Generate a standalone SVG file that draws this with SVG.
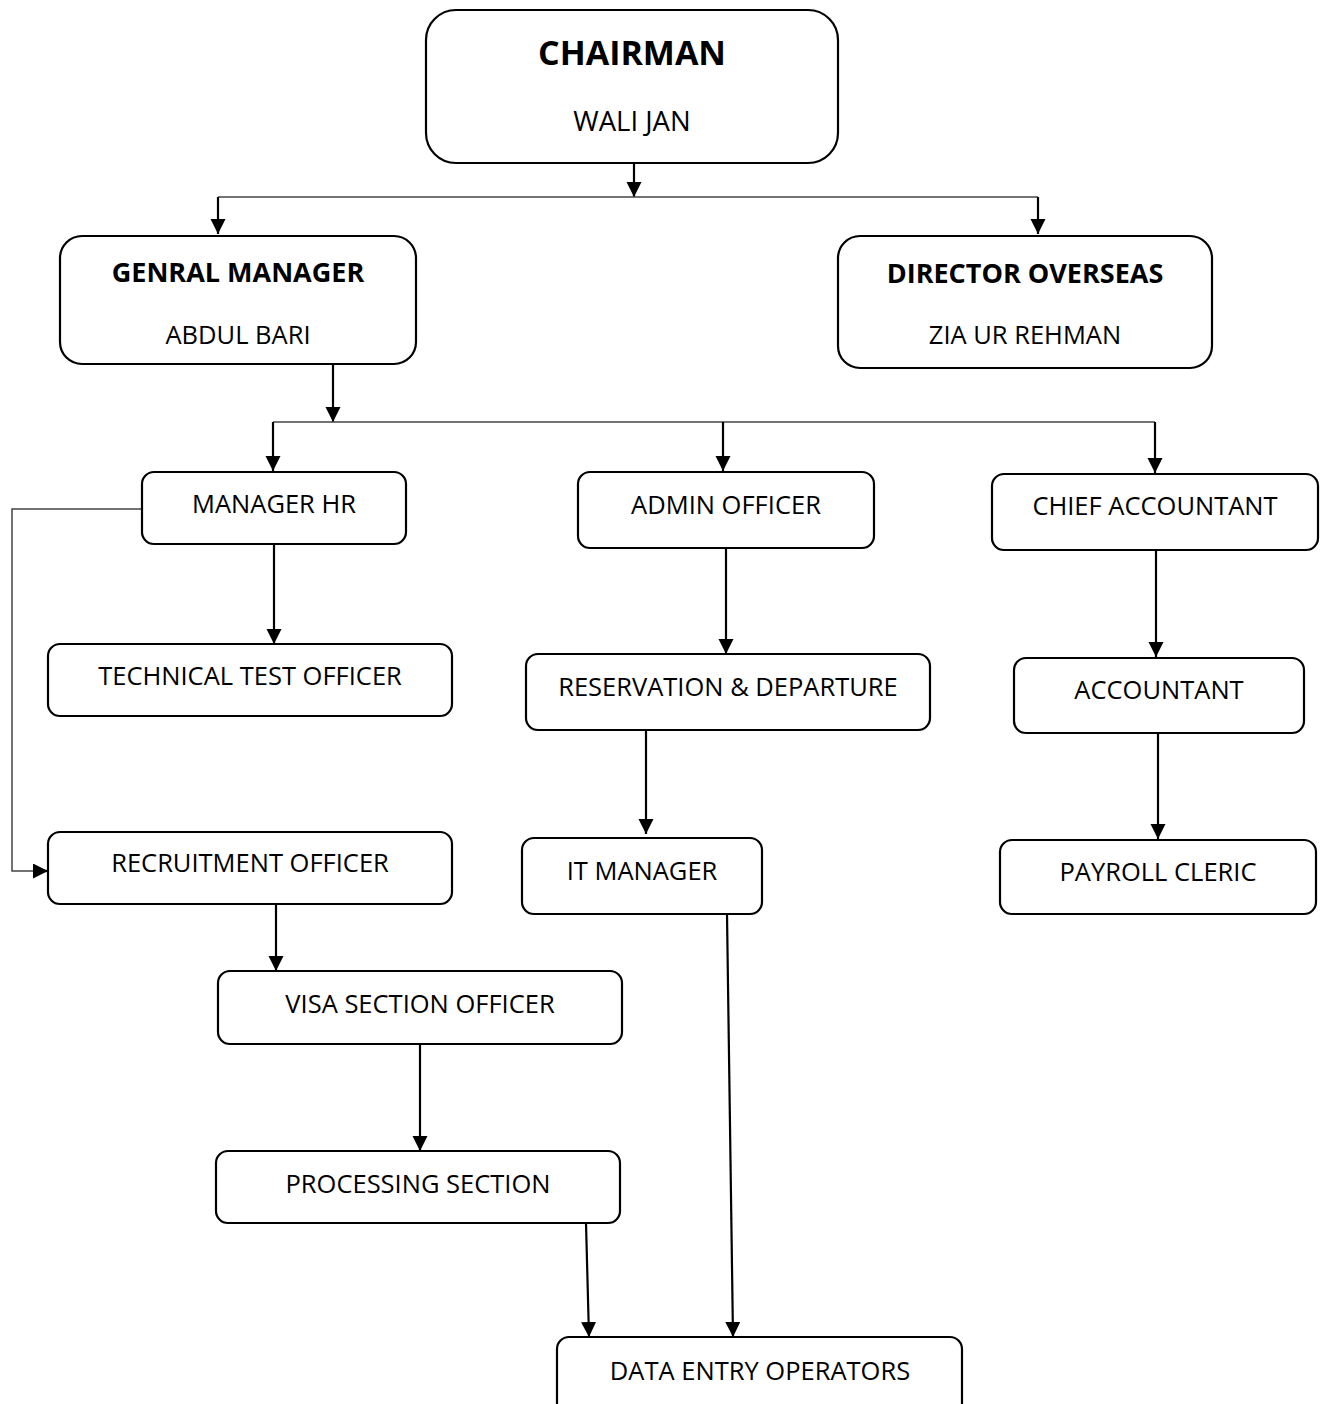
<svg xmlns="http://www.w3.org/2000/svg" width="1323" height="1404" viewBox="0 0 1323 1404">
<style>
.box{fill:#fff;stroke:#000;stroke-width:2.2}
.t{font-family:"Open Sans","Liberation Sans",sans-serif;font-size:25.5px;fill:#000;text-anchor:middle}
.b{font-weight:bold;font-size:27px}
.arr{stroke:#000;stroke-width:2.2;fill:none;marker-end:url(#ah)}
.thin{stroke:#444;stroke-width:1.5;fill:none}
</style>
<defs>
<marker id="ah" markerUnits="userSpaceOnUse" markerWidth="16" markerHeight="16" refX="15" refY="7.5" orient="auto">
<path d="M0,0 L15,7.5 L0,15 Z" fill="#000"/>
</marker>
</defs>
<rect width="1323" height="1404" fill="#fff"/>
<g id="connectors">
<line class="arr" x1="634" y1="163" x2="634" y2="197"/>
<line class="thin" x1="218" y1="197" x2="1038" y2="197"/>
<line class="arr" x1="218" y1="197" x2="218" y2="234"/>
<line class="arr" x1="1038" y1="197" x2="1038" y2="234"/>
<line class="arr" x1="333" y1="364" x2="333" y2="422"/>
<line class="thin" x1="273" y1="422" x2="1155" y2="422"/>
<line class="arr" x1="273" y1="422" x2="273" y2="471"/>
<line class="arr" x1="723" y1="422" x2="723" y2="471"/>
<line class="arr" x1="1155" y1="422" x2="1155" y2="473"/>
<polyline class="thin" points="142,509 12,509 12,871 36,871"/>
<line class="arr" x1="34" y1="871" x2="48" y2="871"/>
<line class="arr" x1="274" y1="544" x2="274" y2="644"/>
<line class="arr" x1="276" y1="904" x2="276" y2="971"/>
<line class="arr" x1="420" y1="1044" x2="420" y2="1151"/>
<line class="arr" x1="586" y1="1223" x2="589" y2="1337"/>
<line class="arr" x1="726" y1="548" x2="726" y2="654"/>
<line class="arr" x1="646" y1="730" x2="646" y2="834"/>
<line class="arr" x1="727" y1="914" x2="733" y2="1337"/>
<line class="arr" x1="1156" y1="550" x2="1156" y2="657"/>
<line class="arr" x1="1158" y1="733" x2="1158" y2="839"/>
</g>
<g id="chairman"><rect class="box" x="426" y="10" width="412" height="153" rx="30"/>
<text class="t b" x="632" y="65" style="font-size:34px">CHAIRMAN</text>
<text class="t" x="632" y="131" style="font-size:27.5px">WALI JAN</text></g>
<g id="general-manager"><rect class="box" x="60" y="236" width="356" height="128" rx="22"/>
<text class="t b" x="238" y="282">GENRAL MANAGER</text>
<text class="t" x="238" y="344">ABDUL BARI</text></g>
<g id="director-overseas"><rect class="box" x="838" y="236" width="374" height="132" rx="22"/>
<text class="t b" x="1025" y="283">DIRECTOR OVERSEAS</text>
<text class="t" x="1025" y="344">ZIA UR REHMAN</text></g>
<g id="manager-hr"><rect class="box" x="142" y="472" width="264" height="72" rx="12"/>
<text class="t" x="274" y="513">MANAGER HR</text></g>
<g id="admin-officer"><rect class="box" x="578" y="472" width="296" height="76" rx="12"/>
<text class="t" x="726" y="514">ADMIN OFFICER</text></g>
<g id="chief-accountant"><rect class="box" x="992" y="474" width="326" height="76" rx="12"/>
<text class="t" x="1155" y="515">CHIEF ACCOUNTANT</text></g>
<g id="technical-test-officer"><rect class="box" x="48" y="644" width="404" height="72" rx="12"/>
<text class="t" x="250" y="685">TECHNICAL TEST OFFICER</text></g>
<g id="reservation-departure"><rect class="box" x="526" y="654" width="404" height="76" rx="12"/>
<text class="t" x="728" y="696">RESERVATION &amp; DEPARTURE</text></g>
<g id="accountant"><rect class="box" x="1014" y="658" width="290" height="75" rx="12"/>
<text class="t" x="1159" y="699">ACCOUNTANT</text></g>
<g id="recruitment-officer"><rect class="box" x="48" y="832" width="404" height="72" rx="12"/>
<text class="t" x="250" y="872">RECRUITMENT OFFICER</text></g>
<g id="it-manager"><rect class="box" x="522" y="838" width="240" height="76" rx="12"/>
<text class="t" x="642" y="880">IT MANAGER</text></g>
<g id="payroll-cleric"><rect class="box" x="1000" y="840" width="316" height="74" rx="12"/>
<text class="t" x="1158" y="881">PAYROLL CLERIC</text></g>
<g id="visa-section-officer"><rect class="box" x="218" y="971" width="404" height="73" rx="12"/>
<text class="t" x="420" y="1013">VISA SECTION OFFICER</text></g>
<g id="processing-section"><rect class="box" x="216" y="1151" width="404" height="72" rx="12"/>
<text class="t" x="418" y="1193">PROCESSING SECTION</text></g>
<g id="data-entry-operators"><rect class="box" x="557" y="1337" width="405" height="80" rx="12"/>
<text class="t" x="760" y="1380">DATA ENTRY OPERATORS</text></g>
</svg>
